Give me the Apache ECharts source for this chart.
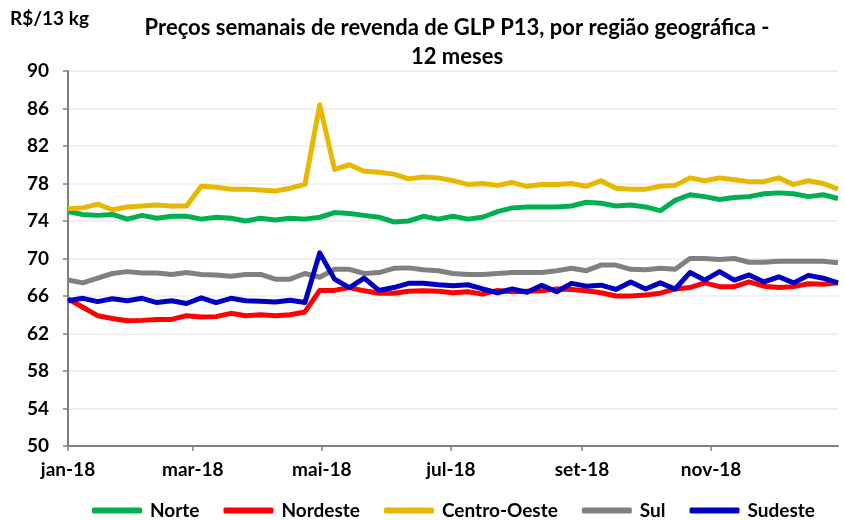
<!DOCTYPE html>
<html>
<head>
<meta charset="utf-8">
<script src="https://cdn.jsdelivr.net/npm/echarts@6/dist/echarts.min.js"></script>
<style>
  html, body { margin: 0; padding: 0; background: #fff; }
  #chart { width: 845px; height: 520px; }
</style>
</head>
<body>
<div id="chart"></div>
<script>
// weekly prices, R$/13 kg, first week starts 2018-01-01
const seriesNames = ["Norte", "Nordeste", "Centro-Oeste", "Sul", "Sudeste"];
const seriesColors = ["#00b050", "#ff0000", "#e6b800", "#808080", "#0000c0"];

const norte = [
  75.0, 74.7, 74.6, 74.7, 74.2, 74.6, 74.3, 74.5, 74.5, 74.2,
  74.4, 74.3, 74.0, 74.3, 74.1, 74.3, 74.2, 74.4, 74.9, 74.8,
  74.6, 74.4, 73.9, 74.0, 74.5, 74.2, 74.5, 74.2, 74.4, 75.0,
  75.4, 75.5, 75.5, 75.5, 75.6, 76.0, 75.9, 75.6, 75.7, 75.5,
  75.1, 76.2, 76.8, 76.6, 76.3, 76.5, 76.6, 76.9, 77.0, 76.9,
  76.6, 76.8, 76.4
];
const nordeste = [
  65.7, 64.8, 63.9, 63.6, 63.35, 63.4, 63.5, 63.5, 63.9, 63.75,
  63.8, 64.15, 63.9, 64.0, 63.9, 64.0, 64.3, 66.6, 66.6, 66.9,
  66.55, 66.3, 66.3, 66.5, 66.55, 66.5, 66.35, 66.45, 66.2, 66.6,
  66.45, 66.5, 66.55, 66.75, 66.7, 66.55, 66.35, 66.0, 66.0, 66.1,
  66.3, 66.75, 66.9, 67.4, 67.0, 67.0, 67.5, 67.05, 66.9, 67.0,
  67.3, 67.25, 67.4
];
const centroOeste = [
  75.3, 75.4, 75.8, 75.2, 75.5, 75.6, 75.7, 75.6, 75.6, 77.7,
  77.6, 77.4, 77.4, 77.3, 77.2, 77.5, 77.9, 86.4, 79.5, 80.0,
  79.3, 79.2, 79.0, 78.5, 78.7, 78.6, 78.3, 77.9, 78.0, 77.8,
  78.1, 77.7, 77.9, 77.9, 78.0, 77.7, 78.3, 77.5, 77.4, 77.4,
  77.7, 77.8, 78.6, 78.3, 78.6, 78.4, 78.2, 78.2, 78.6, 77.9,
  78.3, 78.0, 77.4
];
const sul = [
  67.7, 67.4, 67.9, 68.4, 68.6, 68.45, 68.45, 68.3, 68.5, 68.3,
  68.25, 68.1, 68.3, 68.3, 67.8, 67.8, 68.4, 68.0, 68.85, 68.85,
  68.4, 68.5, 68.95, 69.0, 68.8, 68.7, 68.4, 68.3, 68.3, 68.4,
  68.5, 68.5, 68.5, 68.7, 68.95, 68.7, 69.3, 69.3, 68.85, 68.8,
  68.95, 68.85, 70.0, 70.0, 69.9, 70.0, 69.6, 69.6, 69.7, 69.7,
  69.7, 69.7, 69.55
];
const sudeste = [
  65.5, 65.75, 65.4, 65.7, 65.5, 65.75, 65.3, 65.5, 65.2, 65.8,
  65.3, 65.75, 65.5, 65.45, 65.35, 65.55, 65.3, 70.6, 67.8, 66.9,
  67.9, 66.6, 66.9, 67.35, 67.35, 67.2, 67.1, 67.2, 66.75, 66.35,
  66.75, 66.4, 67.15, 66.45, 67.35, 67.05, 67.15, 66.7, 67.5, 66.75,
  67.4, 66.75, 68.5, 67.7, 68.6, 67.7, 68.25, 67.5, 68.05, 67.4,
  68.2, 67.9, 67.4
];
const monthLabels = ["jan", "fev", "mar", "abr", "mai", "jun", "jul", "ago", "set", "out", "nov", "dez"];

const DAY = 24 * 3600 * 1000;
const start = Date.UTC(2018, 0, 1);
const weeks = norte.map((v, i) => start + i * 7 * DAY);
const allValues = [norte, nordeste, centroOeste, sul, sudeste];

const font = "Lato, 'Liberation Sans', sans-serif";

const chart = echarts.init(document.getElementById("chart"));

const option = {
  useUTC: true,
  animation: false,
  backgroundColor: "#fff",
  textStyle: { fontFamily: font },
  graphic: [
    {
      type: "text",
      left: 10,
      top: 9,
      style: { text: "R$/13 kg", fontFamily: font, fontWeight: "bold", fontSize: 19, fill: "#000" }
    },
    {
      type: "text",
      x: 457,
      y: 13,
      style: {
        text: "Preços semanais de revenda de GLP P13, por região geográfica -\n12 meses",
        fontFamily: font, fontWeight: "bold", fontSize: 22, lineHeight: 29,
        align: "center", fill: "#000"
      }
    }
  ],
  grid: { left: 68, right: 7, top: 71, bottom: 74 },
  legend: {
    top: 496,
    left: 87,
    itemWidth: 50,
    itemHeight: 6,
    itemGap: 24,
    icon: "roundRect",
    textStyle: { fontFamily: font, fontWeight: "bold", fontSize: 19, color: "#000", padding: [0, 0, 0, 3] },
    data: seriesNames
  },
  xAxis: {
    type: "time",
    min: start,
    max: weeks[weeks.length - 1],
    splitNumber: 6,
    axisLine: { lineStyle: { color: "#808080", width: 2 } },
    axisTick: { show: true, length: 5, lineStyle: { color: "#808080", width: 1.5 } },
    minorTick: { show: false },
    splitLine: { show: false },
    axisLabel: {
      fontFamily: font, fontWeight: "bold", fontSize: 19, color: "#000", margin: 14,
      formatter: (val) => {
        const d = new Date(val);
        return monthLabels[d.getUTCMonth()] + "-" + String(d.getUTCFullYear()).slice(2);
      }
    }
  },
  yAxis: {
    type: "value",
    min: 50,
    max: 90,
    interval: 4,
    axisLine: { show: true, lineStyle: { color: "#808080", width: 2 } },
    axisTick: { show: true, length: 5, lineStyle: { color: "#808080", width: 1.5 } },
    splitLine: { lineStyle: { color: "#ebebeb", width: 1.5 } },
    axisLabel: { fontFamily: font, fontWeight: "bold", fontSize: 19, color: "#000", margin: 19 }
  },
  series: seriesNames.map((name, i) => ({
    name: name,
    type: "line",
    showSymbol: false,
    symbol: "none",
    color: seriesColors[i],
    lineStyle: { width: 5, color: seriesColors[i], join: "round" },
    data: weeks.map((t, j) => [t, allValues[i][j]])
  }))
};

chart.setOption(option);
</script>
</body>
</html>
